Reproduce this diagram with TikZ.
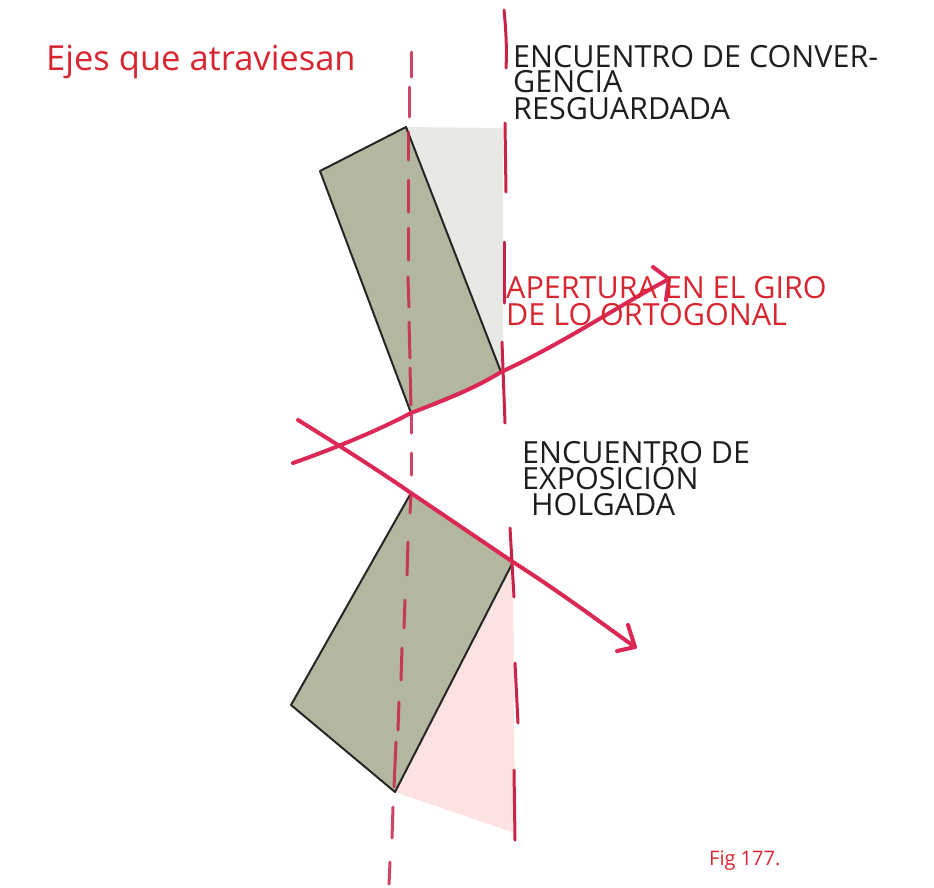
\documentclass[tikz,border=0pt]{standalone}
\usepackage{fontspec}
\setmainfont{Open Sans}
\usetikzlibrary{arrows.meta}
\definecolor{axisred}{RGB}{200,36,72}
\definecolor{arrowred}{RGB}{220,40,84}
\definecolor{textred}{RGB}{217,37,47}
\definecolor{textblack}{RGB}{30,30,30}
\definecolor{olive}{RGB}{180,183,160}
\definecolor{greyzone}{RGB}{232,232,229}
\definecolor{pinkzone}{RGB}{252,226,224}
\tikzset{
  axisline/.style={draw=axisred, line width=3pt, line cap=round},
  leftdash/.style={axisline, draw opacity=0.85},
  turnarrow/.style={draw=arrowred, line width=4pt, line cap=round, line join=round},
  barb/.style={draw=arrowred, line width=4pt, line cap=round, line join=round},
  blockbox/.style={fill=olive, draw=black!85, line width=2pt, line join=round},
  lbl/.style={anchor=base west, inner sep=0pt, text=textblack, font=\fontsize{30.5}{30.5}\selectfont},
  redlbl/.style={anchor=base west, inner sep=0pt, text=textred, font=\fontsize{30.5}{30.5}\selectfont},
}
\begin{document}
\begin{tikzpicture}[x=1pt,y=-1pt]
\useasboundingbox (0,0) rectangle (934,887);
% corners
\coordinate (t1) at (406,127);
\coordinate (t2) at (320,171);
\coordinate (t3) at (411,413);
\coordinate (t4) at (501,372);
\coordinate (b1) at (411,493);
\coordinate (b2) at (513,562);
\coordinate (b3) at (395,792);
\coordinate (b4) at (291,705);
% shaded zones
\fill[greyzone] (t1) -- (503,128) -- (503,372) -- (t4) -- cycle;
\fill[pinkzone] (b2) -- (515,833) -- (b3) -- cycle;
% blocks
\path[blockbox] (t1) -- (t2) -- (t3) .. controls (445,398) and (470,390) .. (t4) -- cycle;
\path[blockbox] (b1) -- (b2) -- (b3) -- (b4) -- cycle;
% left axis (hand-drawn dashes)
\foreach \xa/\ya/\xb/\yb in {411/52/411/77, 409/87/409/117, 408/132/408/160, 408/180/408/212,
  408/228/408/260, 408/277/409/307, 409/322/410/358, 410/368/411/405, 411/415/411/433,
  411/453/411/475, 411/493/410/513, 408/542/407/575, 405/600/404/628, 402/648/401/680,
  399/702/398/730, 396/742/394/787, 393/807/392/838, 390/862/389/884}
  \draw[leftdash] (\xa,\ya) -- (\xb,\yb);
% right axis (hand-drawn dashes)
\draw[axisline] (504,10) .. controls (506,30) and (507,50) .. (506,68);
\draw[axisline] (505,123) -- (506,192);
\draw[axisline] (504,242) -- (504,303);
\draw[axisline] (502,342) .. controls (503,370) and (504,395) .. (505,423);
\draw[axisline] (510,528) -- (514,597);
\draw[axisline] (515,663) -- (518,723);
\draw[axisline] (514,770) -- (515,840);
% arrow 1: opening of the orthogonal turn
\coordinate (a1s) at (293,463);
\coordinate (a1e) at (669,279);
\coordinate (a1u) at (653,267);
\coordinate (a1d) at (666,300);
\draw[turnarrow] (a1s) .. controls (330,450) and (375,432) .. (t3) .. controls (450,398) and (475,388) .. (t4) .. controls (560,345) and (620,305) .. (a1e);
\draw[barb] (a1u) -- (a1e) -- (a1d);
% arrow 2: exposure crossing
\coordinate (a2s) at (298,420);
\coordinate (a2e) at (635,647);
\coordinate (a2u) at (628,625);
\coordinate (a2d) at (617,651);
\draw[turnarrow] (a2s) .. controls (335,443) and (375,468) .. (b1) -- (b2) .. controls (560,592) and (600,622) .. (a2e);
\draw[barb] (a2u) -- (a2e) -- (a2d);
% labels
\node[anchor=base west, inner sep=0pt, text=textred, font=\fontsize{34.5}{34.5}\selectfont] (title) at (46,70) {Ejes que atraviesan};
\node[lbl] (c1) at (513,67) {ENCUENTRO DE CONVER-};
\node[lbl] (c2) at (513,92) {GENCIA};
\node[lbl] (c3) at (513,119) {RESGUARDADA};
\node[redlbl] (r1) at (506,298) {APERTURA EN EL GIRO};
\node[redlbl] (r2) at (506,325) {DE LO ORTOGONAL};
\node[lbl] (e1) at (522,463) {ENCUENTRO DE};
\node[lbl] (e2) at (522,489) {EXPOSICIÓN};
\node[lbl] (e3) at (531,515) {HOLGADA};
\node[anchor=base west, inner sep=0pt, text=textred, font=\fontsize{20}{20}\selectfont] (fig) at (709,865) {Fig 177.};
\end{tikzpicture}
\end{document}
